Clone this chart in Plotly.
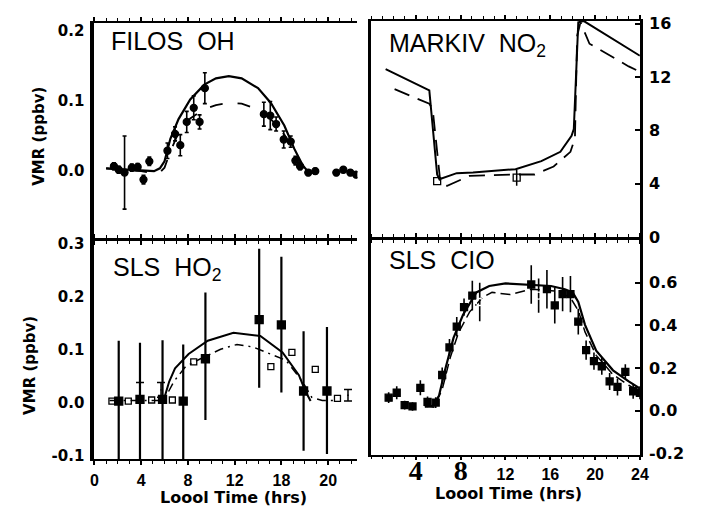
import plotly.graph_objects as go

# ---------------- data ----------------
# FILOS OH (ppbv)
oh_hr = [1.67, 2.08, 2.58, 3.2, 3.7, 4.2, 4.7, 6.25, 6.9, 7.35, 7.9, 8.5, 9.0, 9.45,
         14.5, 15.05, 15.55, 16.2, 16.8, 17.2, 17.6, 18.3, 18.9, 20.7, 21.3, 21.9, 22.4]
oh_vmr = [0.007, 0.002, -0.002, 0.005, 0.006, -0.012, 0.014, 0.029, 0.053, 0.037, 0.070, 0.090, 0.070, 0.118,
          0.081, 0.079, 0.067, 0.045, 0.042, 0.015, 0.007, -0.002, 0.0, -0.002, 0.002, -0.002, -0.005]
oh_err = [0.005, 0.005, 0.052, 0.005, 0.005, 0.006, 0.006, 0.011, 0.010, 0.015, 0.015, 0.017, 0.010, 0.022,
          0.017, 0.020, 0.010, 0.012, 0.008, 0.006, 0.005, 0.004, 0.004, 0.004, 0.004, 0.004, 0.004]
oh_model_hr = [1.0, 2.0, 3.0, 4.0, 5.1, 5.6, 6.0, 6.5, 7.2, 8.2, 9.4, 10.4, 11.5, 12.6, 14.0,
               15.1, 16.25, 17.1, 17.8, 18.3, 18.8]
oh_solid = [0.004, 0.003, 0.003, 0.002, 0.0, 0.004, 0.014, 0.046, 0.074, 0.102, 0.123, 0.132, 0.135, 0.132, 0.118,
            0.097, 0.065, 0.032, 0.009, -0.001, -0.002]
oh_dashed = [0.004, 0.003, 0.002, 0.0, -0.003, -0.002, 0.005, 0.028, 0.055, 0.075, 0.088, 0.094, 0.097, 0.096, 0.088,
             0.074, 0.052, 0.028, 0.008, -0.001, -0.002]

# MARKIV NO2 (ppbv)
no2_obs_hr = [5.9, 13.0]
no2_obs = [4.2, 4.46]
no2_obs_err = [0.0, 0.6]
no2_solid_hr = [1.3, 5.2, 5.9, 6.1, 7.65, 9.1, 12.9, 15.2, 16.9, 17.9, 18.1, 18.5, 19.0, 24.0]
no2_solid = [12.6, 11.0, 4.7, 4.35, 4.8, 4.85, 5.1, 5.7, 6.4, 7.6, 8.1, 16.1, 16.2, 13.6]
no2_dashed_hr = [2.1, 5.2, 5.5, 6.2, 6.8, 8.8, 12.9, 14.6, 16.3, 17.8, 18.2, 18.4, 18.7, 19.5, 23.0, 24.0]
no2_dashed = [11.1, 10.0, 9.6, 4.0, 3.85, 4.6, 4.7, 4.7, 5.3, 6.4, 7.4, 15.1, 16.1, 14.5, 12.8, 12.4]

# SLS HO2 (ppbv)
ho2_hr = [2.08, 3.9, 5.83, 7.6, 9.5, 14.1, 16.0, 17.9, 19.9]
ho2_vmr = [0.003, 0.006, 0.006, 0.003, 0.083, 0.157, 0.147, 0.022, 0.022]
ho2_err_plus = [0.114, 0.107, 0.112, 0.107, 0.125, 0.134, 0.129, 0.113, 0.121]
ho2_err_minus = [0.116, 0.116, 0.116, 0.110, 0.116, 0.129, 0.128, 0.113, 0.119]
ho2_open_hr = [1.5, 2.9, 4.9, 6.67, 8.5, 15.1, 16.9, 18.9, 20.8]
ho2_open = [0.003, 0.003, 0.005, 0.005, 0.077, 0.068, 0.095, 0.063, 0.008]
ho2_bar_hr = [3.9, 5.7, 21.7]
ho2_bar = [0.024, 0.024, 0.014]
ho2_bar_err = [0.014, 0.014, 0.011]
ho2_solid_hr = [6.0, 6.4, 6.9, 8.06, 9.7, 11.9, 14.2, 16.1, 17.5, 18.05, 18.5]
ho2_solid = [0.010, 0.040, 0.065, 0.092, 0.117, 0.132, 0.126, 0.095, 0.052, 0.022, 0.003]
ho2_dashed_hr = [1.3, 3.0, 5.0, 5.6, 6.2, 6.8, 7.8, 9.0, 10.8, 12.2, 13.6, 15.0, 16.4, 17.8, 18.6, 19.5, 20.5]
ho2_dashed = [0.004, 0.004, 0.004, 0.004, 0.015, 0.040, 0.068, 0.082, 0.101, 0.110, 0.105, 0.092, 0.080, 0.040,
              0.010, 0.004, 0.004]

# SLS ClO (ppbv)
cio_hr = [1.57, 2.29, 3.0, 3.7, 4.4, 5.04, 5.77, 6.35, 7.0, 7.65, 8.3, 9.04, 14.3, 15.7, 16.4, 17.1, 17.8,
          18.5, 19.2, 19.9, 20.6, 21.3, 22.0, 22.7, 23.4, 24.0]
cio_vmr = [0.062, 0.085, 0.027, 0.021, 0.108, 0.042, 0.039, 0.168, 0.297, 0.395, 0.486, 0.540, 0.592, 0.570,
           0.494, 0.547, 0.547, 0.418, 0.285, 0.233, 0.209, 0.138, 0.112, 0.183, 0.092, 0.085]
cio_err = [0.025, 0.030, 0.020, 0.020, 0.035, 0.025, 0.025, 0.035, 0.040, 0.045, 0.040, 0.070, 0.090, 0.090,
           0.085, 0.080, 0.085, 0.060, 0.045, 0.040, 0.040, 0.040, 0.040, 0.035, 0.035, 0.030]
cio_open_hr = [9.7, 14.96]
cio_open = [0.51, 0.54]
cio_open_err = [0.09, 0.08]
cio_solid_hr = [4.8, 5.5, 6.06, 6.6, 7.36, 8.2, 9.4, 10.55, 12.0, 14.3, 16.06, 17.3, 18.0, 18.5, 19.1, 20.1,
                21.6, 23.0, 24.0]
cio_solid = [0.02, 0.024, 0.070, 0.190, 0.342, 0.449, 0.555, 0.585, 0.597, 0.590, 0.585, 0.570, 0.555, 0.510,
             0.403, 0.282, 0.190, 0.138, 0.105]
cio_dashed_hr = [4.8, 5.6, 6.35, 7.07, 7.8, 8.8, 9.97, 10.8, 12.4, 14.3, 16.7, 17.8, 18.5, 19.1, 20.1, 21.6,
                 23.0, 24.0]
cio_dashed = [0.02, 0.017, 0.100, 0.250, 0.365, 0.464, 0.532, 0.555, 0.545, 0.570, 0.560, 0.530, 0.470, 0.370,
              0.260, 0.170, 0.120, 0.090]

# tick labels
left_x_vals = [0, 4, 8, 12, 16, 20]
left_x_text = ["0", "4", "8", "12", "18", "20"]
right_x_vals = [4, 8, 12, 16, 20, 24]
right_x_text = ['<span style="font-family:Liberation Serif;font-size:28px">4</span>',
                '<span style="font-family:Liberation Serif;font-size:28px">8</span>',
                "12", "16", "20", "24"]
oh_y_vals = [0.0, 0.1, 0.2]
oh_y_text = ["0.0", "0.1", "0.2"]
ho2_y_vals = [-0.1, 0.0, 0.1, 0.2, 0.3]
ho2_y_text = ["-0.1", "0.0", "0.1", "0.2", "0.3"]
no2_y_vals = [0, 4, 8, 12, 16]
no2_y_text = ["0", "4", "8", "12", "16"]
cio_y_vals = [-0.2, 0.0, 0.2, 0.4, 0.6]
cio_y_text = ["-0.2", "0.0", "0.2", "0.4", "0.6"]

# ---------------- figure ----------------
# the page body has an 8px margin on every side; size the figure so the
# page does not overflow the 703x522 window, and shift reference pixels
OFF = 8
W, H = 703 - 2 * OFF, 522 - 2 * OFF


def fx(p):
    return (p - OFF) / W


def fy(p):
    return 1 - (p - OFF) / H


fig = go.Figure()
BLK = "black"


def line(x, y, ax, dash, width):
    fig.add_trace(go.Scatter(x=x, y=y, mode="lines", xaxis="x" + ax, yaxis="y" + ax,
                             line=dict(color=BLK, width=width, dash=dash),
                             showlegend=False, hoverinfo="skip"))


def pts(x, y, ax, symbol, size, err=None, errm=None, thick=1.5, cap=0, fill=BLK):
    e = None
    if err is not None:
        e = dict(type="data", array=err, arrayminus=errm if errm is not None else err,
                 symmetric=errm is None, color=BLK, thickness=thick, width=cap, visible=True)
    fig.add_trace(go.Scatter(x=x, y=y, mode="markers", xaxis="x" + ax, yaxis="y" + ax,
                             marker=dict(symbol=symbol, size=size, color=fill,
                                         line=dict(color=BLK, width=1.3)),
                             error_y=e, showlegend=False, hoverinfo="skip"))


# OH (panel 1 -> axis "")
line(oh_model_hr, oh_dashed, "", "13px,15px", 1.8)
line(oh_model_hr, oh_solid, "", "solid", 2.2)
pts(oh_hr, oh_vmr, "", "circle", 7, oh_err, thick=1.6, cap=2)

# HO2 (panel 2)
line(ho2_dashed_hr, ho2_dashed, "2", "9px,5px,2px,5px", 1.5)
line(ho2_solid_hr, ho2_solid, "2", "solid", 2.0)
pts(ho2_bar_hr, ho2_bar, "2", "line-ew", 1, ho2_bar_err, thick=1.5, cap=4, fill="rgba(0,0,0,0)")
pts(ho2_hr, ho2_vmr, "2", "square", 8, ho2_err_plus, ho2_err_minus, thick=2.2, cap=0)
pts(ho2_open_hr, ho2_open, "2", "square-open", 6)

# NO2 (panel 3)
line(no2_dashed_hr, no2_dashed, "3", "16px,9px", 1.8)
line(no2_solid_hr, no2_solid, "3", "solid", 2.0)
pts(no2_obs_hr, no2_obs, "3", "square-open", 7, no2_obs_err, thick=1.5, cap=0)

# ClO (panel 4)
line(cio_dashed_hr, cio_dashed, "4", "10px,5px", 1.5)
line(cio_solid_hr, cio_solid, "4", "solid", 2.2)
pts(cio_hr, cio_vmr, "4", "square", 7, cio_err, thick=1.6, cap=0)
pts(cio_open_hr, cio_open, "4", "circle-open", 7, cio_open_err, thick=1.6, cap=0, fill="white")

# ---------------- axes ----------------
tickf_l = dict(family="DejaVu Sans", size=15, color=BLK, weight="bold")
tickf_r = dict(family="DejaVu Sans", size=16, color=BLK, weight="bold")
tickf_x = dict(family="Liberation Sans, Arial", size=16, color=BLK, weight="bold")

xbase = dict(showgrid=False, zeroline=False, showline=True, linecolor=BLK, linewidth=1.5,
             mirror="ticks", ticks="outside", ticklen=4, tickwidth=1.5, tickcolor=BLK,
             minor=dict(dtick=1, ticks="outside", ticklen=3, tickwidth=1, tickcolor=BLK),
             tickfont=tickf_x, fixedrange=True)

LX = [fx(92), fx(360)]
RX = [fx(374), fx(648)]

fig.update_layout(
    width=W, height=H, margin=dict(l=0, r=0, t=0, b=0),
    paper_bgcolor="white", plot_bgcolor="white", showlegend=False,
    xaxis=dict(xbase, domain=LX, anchor="y", range=[0, 22.5], tickvals=left_x_vals,
               showticklabels=False),
    yaxis=dict(domain=[fy(240), fy(17)], anchor="x", range=[-0.0966, 0.211],
               tickvals=oh_y_vals, ticktext=oh_y_text, showgrid=False, zeroline=False,
               showline=True, linecolor=BLK, linewidth=4, ticks="", tickfont=tickf_l,
               ticklabelstandoff=3, fixedrange=True),
    xaxis2=dict(xbase, domain=LX, anchor="y2", range=[0, 22.5], tickvals=left_x_vals,
                ticktext=left_x_text, ticklabelstandoff=2),
    yaxis2=dict(domain=[fy(467), fy(241)], anchor="x2", range=[-0.1073, 0.3073],
                tickvals=ho2_y_vals, ticktext=ho2_y_text, showgrid=False, zeroline=False,
                showline=True, linecolor=BLK, linewidth=4, ticks="", tickfont=tickf_l,
                ticklabelstandoff=3, fixedrange=True),
    xaxis3=dict(xbase, domain=RX, anchor="y3", range=[0, 24], tickvals=right_x_vals,
                showticklabels=False),
    yaxis3=dict(domain=[fy(239), fy(15)], anchor="x3", side="right", range=[-0.07, 16.22],
                tickvals=no2_y_vals, ticktext=no2_y_text, showgrid=False, zeroline=False,
                showline=True, linecolor=BLK, linewidth=3, mirror=True, ticks="inside",
                ticklen=5, tickwidth=2, tickcolor=BLK, tickfont=tickf_r,
                ticklabelstandoff=3, fixedrange=True),
    xaxis4=dict(xbase, domain=RX, anchor="y4", range=[0, 24], tickvals=right_x_vals,
                ticktext=right_x_text, ticklabelstandoff=1),
    yaxis4=dict(domain=[fy(462), fy(240)], anchor="x4", side="right", range=[-0.2045, 0.8045],
                tickvals=cio_y_vals, ticktext=cio_y_text, showgrid=False, zeroline=False,
                showline=True, linecolor=BLK, linewidth=3, mirror=True, ticks="inside",
                ticklen=5, tickwidth=2, tickcolor=BLK, tickfont=tickf_r,
                ticklabelstandoff=3, fixedrange=True),
)

# ---------------- text ----------------
titlef = dict(family="Liberation Sans, Arial", size=25, color=BLK)
axtf = dict(family="DejaVu Sans", size=15, color=BLK, weight="bold")
xtf = dict(family="DejaVu Sans", size=16, color=BLK, weight="bold")
ann = [
    dict(text="FILOS  OH", x=fx(107), y=fy(36), xanchor="left", yanchor="middle", font=titlef),
    dict(text="MARKIV  NO<sub>2</sub>", x=fx(390), y=fy(40), xanchor="left", yanchor="middle", font=titlef),
    dict(text="SLS  HO<sub>2</sub>", x=fx(109), y=fy(271), xanchor="left", yanchor="middle", font=titlef),
    dict(text="SLS  CIO", x=fx(390), y=fy(261), xanchor="left", yanchor="middle", font=titlef),
    dict(text="VMR (ppbv)", x=fx(36), y=fy(134), textangle=-90, xanchor="center", yanchor="middle", font=axtf),
    dict(text="VMR (ppbv)", x=fx(27), y=fy(370), textangle=-90, xanchor="center", yanchor="middle", font=axtf),
    dict(text="Loool Time (hrs)", x=fx(234), y=fy(506), xanchor="center", yanchor="middle", font=xtf),
    dict(text="Loool Time (hrs)", x=fx(514), y=fy(502), xanchor="center", yanchor="middle", font=xtf),
]
for a in ann:
    a.update(xref="paper", yref="paper", showarrow=False)
fig.update_layout(annotations=ann)

fig.write_html("out.html")
